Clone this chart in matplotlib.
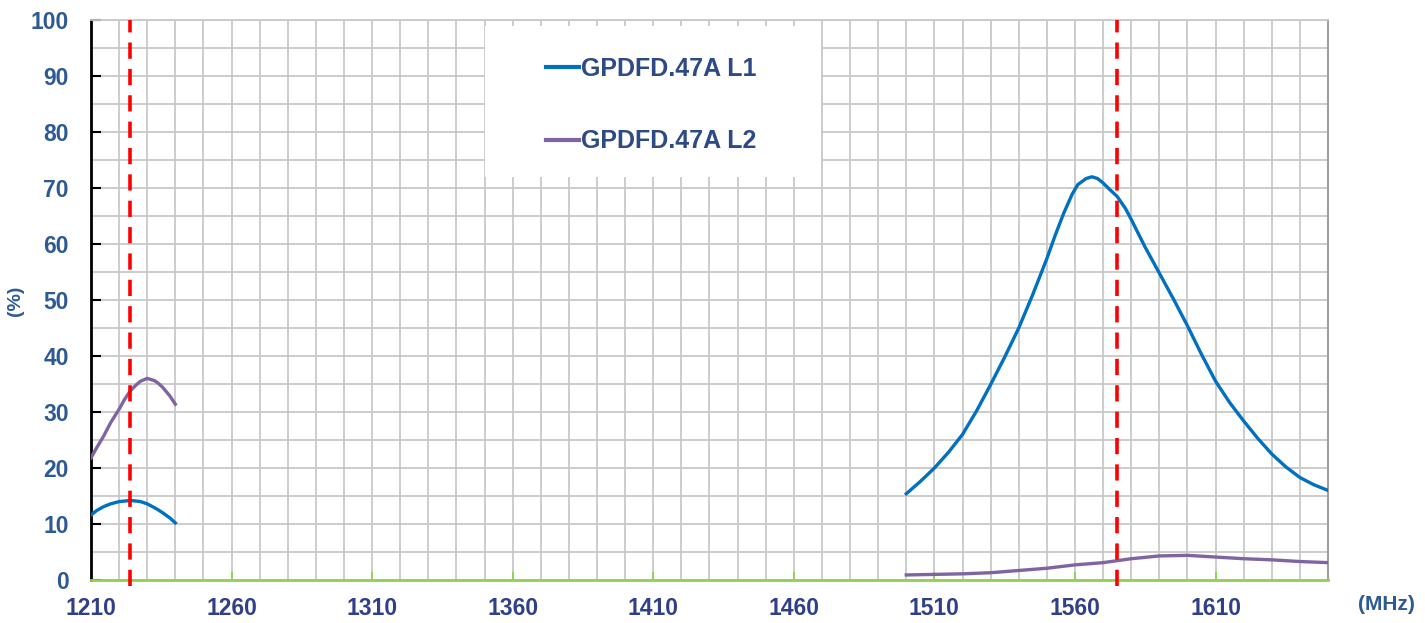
import matplotlib
matplotlib.use("Agg")
import matplotlib.pyplot as plt
from matplotlib.patches import Rectangle
from matplotlib.ticker import MultipleLocator, FixedLocator

plt.rcParams["font.family"] = ["Liberation Sans", "DejaVu Sans"]

# L1 band (blue = L1 response, purple = L2 response)
freq_hi = [1500, 1505, 1510, 1515, 1520, 1525, 1530, 1535, 1540, 1545, 1550, 1553,
           1556, 1559, 1561, 1564, 1566, 1568, 1570, 1572, 1575, 1578, 1580, 1582,
           1585, 1590, 1595, 1600, 1605, 1610, 1615, 1620, 1625, 1630, 1635, 1640,
           1645, 1650]
l1_hi = [15.4, 17.6, 20.0, 22.8, 26.0, 30.2, 34.9, 39.8, 45.0, 51.0, 57.4, 61.6,
         65.5, 68.9, 70.6, 71.7, 72.0, 71.7, 70.9, 69.9, 68.5, 66.3, 64.4, 62.4,
         59.4, 54.8, 50.2, 45.4, 40.3, 35.5, 31.7, 28.4, 25.3, 22.5, 20.2, 18.3,
         17.0, 16.0]
freq_hi2 = [1500, 1510, 1520, 1530, 1540, 1550, 1560, 1570, 1580, 1590, 1600,
            1610, 1620, 1630, 1640, 1650]
l2_hi = [0.9, 1.0, 1.1, 1.3, 1.7, 2.1, 2.7, 3.1, 3.8, 4.3, 4.4, 4.1, 3.8, 3.6, 3.3, 3.1]

# L2 band
freq_lo = [1210, 1212, 1214.5, 1217, 1220, 1222, 1224, 1226, 1227.6, 1230, 1232.6,
           1234, 1235.5, 1238, 1240]
l1_lo = [11.6, 12.4, 13.1, 13.6, 14.0, 14.1, 14.2, 14.1, 14.0, 13.6, 12.9,
         12.5, 12.0, 11.1, 10.2]
l2_lo = [21.8, 23.6, 25.7, 28.1, 30.5, 32.3, 33.8, 34.8, 35.5, 36.0, 35.6,
         35.1, 34.4, 32.9, 31.4]

markers_mhz = [1224, 1575]
series_names = ["GPDFD.47A L1", "GPDFD.47A L2"]

BLUE = "#0070C0"
PURPLE = "#8064A2"
LABEL = "#2E5A94"

fig = plt.figure(figsize=(14.25, 6.23), dpi=100)
ax = fig.add_axes([91 / 1425, 43 / 623, 1237 / 1425, 560 / 623])

ax.set_xlim(1210, 1650)
ax.set_ylim(0, 100)

ax.xaxis.set_major_locator(FixedLocator(list(range(1210, 1611, 50))))
ax.xaxis.set_minor_locator(MultipleLocator(10))
ax.yaxis.set_major_locator(MultipleLocator(10))
ax.yaxis.set_minor_locator(MultipleLocator(5))
ax.grid(True, which="both", color="#C8C8C8", linewidth=1.3, zorder=0)
ax.set_axisbelow(True)

ax.tick_params(axis="y", which="major", direction="in", length=7, width=1.5,
               color="black", pad=16, labelsize=16.5, labelcolor=LABEL)
ax.tick_params(axis="x", which="major", direction="in", length=6, width=1.3,
               color="#92D050", pad=12, labelsize=16.5, labelcolor="#2F3F88")
ax.tick_params(which="minor", length=0)
for lab in ax.get_xticklabels() + ax.get_yticklabels():
    lab.set_fontweight("bold")

ax.spines["left"].set_color("black")
ax.spines["left"].set_linewidth(2)
ax.spines["bottom"].set_color("#92D050")
ax.spines["bottom"].set_linewidth(2)
ax.spines["right"].set_color("#A0A0A0")
ax.spines["right"].set_linewidth(1.5)
ax.spines["top"].set_color("#C8C8C8")
ax.spines["top"].set_linewidth(1.3)

# white legend area covering the grid
ax.add_patch(Rectangle((0.3185, 0.72), 0.272, 0.27, transform=ax.transAxes,
                       facecolor="white", edgecolor="none", zorder=1))

ax.plot(freq_lo, l1_lo, color=BLUE, linewidth=2.4, zorder=3, label=series_names[0])
ax.plot(freq_hi, l1_hi, color=BLUE, linewidth=2.4, zorder=3)
ax.plot(freq_lo, l2_lo, color=PURPLE, linewidth=2.4, zorder=3, label=series_names[1])
ax.plot(freq_hi2, l2_hi, color=PURPLE, linewidth=2.4, zorder=3)

for f in markers_mhz:
    ax.plot([f, f], [-1, 100], color="#FF0000", linewidth=2.6,
            linestyle=(0, (4.5, 2.8)), zorder=4, clip_on=False)

leg = ax.legend(loc="upper left", bbox_to_anchor=(0.35, 0.975), frameon=False,
                handlelength=1.3, handletextpad=0.08, labelspacing=1.95,
                prop={"size": 18, "weight": "bold"})
for t in leg.get_texts():
    t.set_color("#2E4A86")
for h in leg.get_lines():
    h.set_linewidth(3)

fig.text(16 / 1425, 1 - 301 / 623, "(%)", rotation=90, ha="center", va="center",
         fontsize=14, fontweight="bold", color=LABEL)
fig.text(1386 / 1425, 1 - 605 / 623, "(MHz)", ha="center", va="center",
         fontsize=15, fontweight="bold", color="#2E5A94")

fig.savefig("out.png", dpi=100)
